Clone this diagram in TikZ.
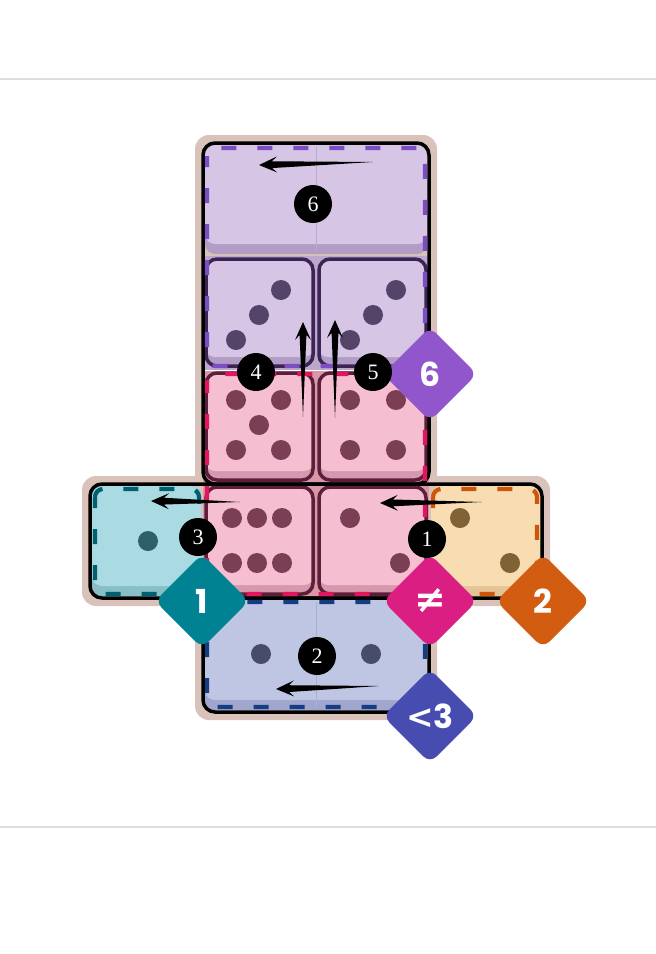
\documentclass[tikz,border=0pt]{standalone}
\usepackage{fontspec}
\usetikzlibrary{calc}
\newfontfamily\numfont{Liberation Serif}
\newfontfamily\badgefont{Poppins}
\newfontfamily\symfont{DejaVu Sans}

\definecolor{tanrim}{RGB}{216,194,185}
\definecolor{lavface}{RGB}{214,197,228}
\definecolor{lavshade}{RGB}{178,157,198}
\definecolor{lavedge}{RGB}{60,36,84}
\definecolor{lavpip}{RGB}{85,68,105}
\definecolor{lavgap}{RGB}{188,168,204}
\definecolor{pinkface}{RGB}{246,191,209}
\definecolor{pinkshade}{RGB}{214,152,174}
\definecolor{pinkedge}{RGB}{93,30,58}
\definecolor{pinkpip}{RGB}{122,62,85}
\definecolor{pinkgap}{RGB}{216,152,168}
\definecolor{cyanface}{RGB}{170,219,226}
\definecolor{cyanshade}{RGB}{136,190,198}
\definecolor{cyanpip}{RGB}{45,96,104}
\definecolor{peachface}{RGB}{248,220,178}
\definecolor{peachshade}{RGB}{228,196,150}
\definecolor{peachpip}{RGB}{128,98,52}
\definecolor{blueface}{RGB}{191,198,227}
\definecolor{blueshade}{RGB}{160,166,205}
\definecolor{bluepip}{RGB}{72,76,108}
\definecolor{cagepurple}{RGB}{125,78,195}
\definecolor{cagered}{RGB}{226,22,92}
\definecolor{cageteal}{RGB}{0,96,112}
\definecolor{cageorange}{RGB}{205,86,10}
\definecolor{cageblue}{RGB}{22,60,130}
\definecolor{tagpurple}{RGB}{146,86,204}
\definecolor{tagmagenta}{RGB}{218,30,130}
\definecolor{tagteal}{RGB}{0,130,146}
\definecolor{tagorange}{RGB}{210,92,15}
\definecolor{tagblue}{RGB}{70,76,176}
\definecolor{rulegray}{RGB}{222,222,222}

% one die: left, top, face, shade, edge
\newcommand{\diecell}[5]{%
  \fill[#4, rounded corners=10pt] (#1+2,#2+2) rectangle (#1+111,#2+111);
  \fill[#3, rounded corners=10pt] (#1+2,#2+2) rectangle (#1+111,#2+101);
  \draw[#5, line width=3.5pt, rounded corners=11pt] (#1+3,#2+3) rectangle (#1+110,#2+110);
}
% tapered arrow: tail, tip
\newcommand{\tarrow}[2]{%
  \coordinate (tb) at ($(#2)!18pt!(#1)$);
  \coordinate (ts) at ($(#2)!13pt!(#1)$);
  \fill (#1) -- ($(ts)!3.4pt!90:(#1)$) -- ($(tb)!8pt!90:(#1)$) -- (#2)
    -- ($(tb)!8pt!-90:(#1)$) -- ($(ts)!3.4pt!-90:(#1)$) -- cycle;
}
% rounded diamond tag: name, centre, colour, text
\newcommand{\cagetag}[4]{%
  \fill[#3, rounded corners=9pt] ($(#2)+(0,-47)$) -- ($(#2)+(47,0)$)
    -- ($(#2)+(0,47)$) -- ($(#2)+(-47,0)$) -- cycle;
  \node[tagtext] (#1) at (#2) {#4};
}

\begin{document}
\begin{tikzpicture}[x=1pt, y=-1pt,
    numdot/.style={circle, fill=black, text=white, minimum size=38pt, inner sep=0pt,
      font=\numfont\fontsize{22}{22}\selectfont},
    tagtext/.style={text=white, inner sep=0pt, font=\badgefont\bfseries\fontsize{33}{33}\selectfont},
    cage/.style={line width=4.2pt, dash pattern=on 15pt off 21pt, dash phase=4pt, rounded corners=8pt},
    region/.style={draw=black, line width=3.5pt, rounded corners=12pt},
    rim/.style={fill=tanrim, rounded corners=14pt}
  ]
  \useasboundingbox (0,0) rectangle (656,954);

  % page rules
  \draw[rulegray, line width=1.3pt] (0,79) -- (656,79);
  \draw[rulegray, line width=1.3pt] (0,827) -- (656,827);

  % outer rim
  \fill[rim] (195,135) rectangle (437,492);
  \fill[rim] (82,476) rectangle (550,606);
  \fill[rim] (195,590) rectangle (437,720);

  % backgrounds under the dice
  \fill[lavgap] (203,256) rectangle (429,370);
  \fill[pinkgap] (203,370) rectangle (429,598);

  % top domino
  \fill[lavshade, rounded corners=10pt] (205,145) rectangle (427,254);
  \fill[lavface, rounded corners=10pt] (205,145) rectangle (427,244);
  \draw[lavshade!70!lavface, line width=0.8pt] (316,147) -- (316,252);

  % dice
  \diecell{203}{256}{lavface}{lavshade}{lavedge}
  \diecell{316}{256}{lavface}{lavshade}{lavedge}
  \diecell{203}{370}{pinkface}{pinkshade}{pinkedge}
  \diecell{316}{370}{pinkface}{pinkshade}{pinkedge}
  \diecell{203}{484}{pinkface}{pinkshade}{pinkedge}
  \diecell{316}{484}{pinkface}{pinkshade}{pinkedge}

  % single cells
  \fill[cyanshade, rounded corners=10pt] (92,486) rectangle (201,596);
  \fill[cyanface, rounded corners=10pt] (92,486) rectangle (201,586);
  \fill[peachshade, rounded corners=10pt] (431,486) rectangle (540,596);
  \fill[peachface, rounded corners=10pt] (431,486) rectangle (540,586);

  % bottom domino
  \fill[blueshade, rounded corners=10pt] (205,600) rectangle (427,710);
  \fill[blueface, rounded corners=10pt] (205,600) rectangle (427,700);
  \draw[blueshade!70!blueface, line width=0.8pt] (316,602) -- (316,708);

  % pips
  \foreach \p in {(281,290),(259,315),(236,340),(396,290),(373,315),(350,340)}
    \fill[lavpip] \p circle (10pt);
  \foreach \p in {(236,400),(281,400),(259,425),(236,450),(281,450),
                  (350,400),(396,400),(350,450),(396,450),
                  (232,518),(257,518),(282,518),(232,563),(257,563),(282,563),
                  (350,518),(400,563)}
    \fill[pinkpip] \p circle (10pt);
  \fill[cyanpip] (148,541) circle (10pt);
  \foreach \p in {(460,518),(510,563)}
    \fill[peachpip] \p circle (10pt);
  \foreach \p in {(261,654),(371,654)}
    \fill[bluepip] \p circle (10pt);

  % regions
  \draw[region] (203,143) rectangle (429,484);
  \draw[region] (90,484) rectangle (542,598);
  \draw[region] (203,598) rectangle (429,712);

  % cages
  \draw[white, line width=1pt] (205,370) -- (427,370);
  \draw[cage, cagepurple] (207,148) rectangle (425,366);
  \draw[cage, cagered] (207,374) rectangle (425,594);
  \draw[cage, cageteal] (95,489) rectangle (199,594);
  \draw[cage, cageorange] (433,489) rectangle (537,594);
  \draw[cage, cageblue] (207,602) rectangle (425,707);

  % arrows
  \coordinate (t6) at (373,162); \coordinate (h6) at (259,165);
  \coordinate (t4) at (303,417); \coordinate (h4) at (303,322);
  \coordinate (t5) at (335,418); \coordinate (h5) at (335,320);
  \coordinate (t3) at (240,502); \coordinate (h3) at (151,501);
  \coordinate (t1) at (482,502); \coordinate (h1) at (380,503);
  \coordinate (t2) at (379,686); \coordinate (h2) at (276,689);
  \foreach \k in {6,4,5,3,1,2}{
    \tarrow{t\k}{h\k}
  }

  % cage tags
  \cagetag{g6}{430,374}{tagpurple}{6}
  \cagetag{g1}{202,601}{tagteal}{1}
  \cagetag{gne}{430,601}{tagmagenta}{\symfont\bfseries\fontsize{38}{38}\selectfont ≠}
  \cagetag{g2}{543,601}{tagorange}{2}
  \cagetag{glt}{430,716}{tagblue}{{\symfont\bfseries <}3}

  % step numbers
  \node[numdot] (n6) at (313,204) {6};
  \node[numdot] (n4) at (256,372) {4};
  \node[numdot] (n5) at (373,372) {5};
  \node[numdot] (n3) at (198,537) {3};
  \node[numdot] (n1) at (427,539) {1};
  \node[numdot] (n2) at (317,656) {2};
\end{tikzpicture}
\end{document}
